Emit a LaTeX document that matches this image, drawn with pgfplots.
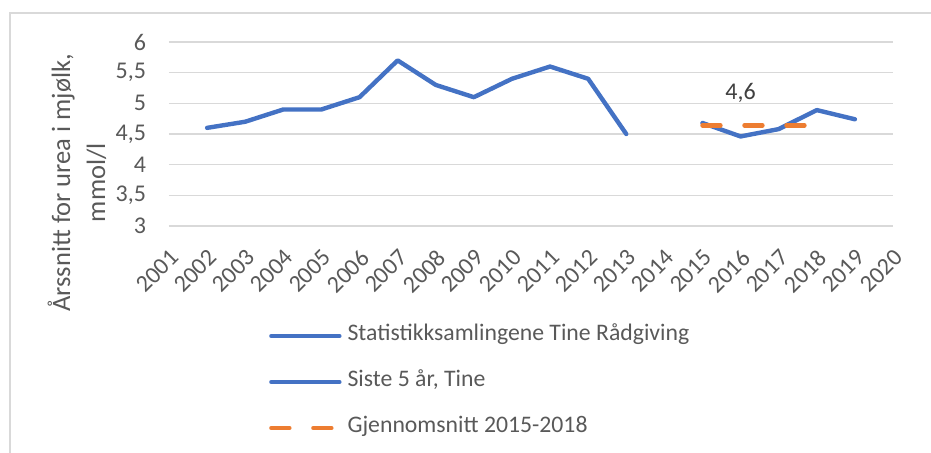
\documentclass[border=0pt]{standalone}
\usepackage{fontspec}
\setmainfont{Carlito}
\usepackage{pgfplots}
\pgfplotsset{compat=1.18}
\definecolor{exblue}{HTML}{4472C4}
\definecolor{exorange}{HTML}{ED7D31}
\definecolor{txtgray}{HTML}{595959}
\definecolor{gridgray}{HTML}{D9D9D9}
\begin{document}
\begin{tikzpicture}
\useasboundingbox (0,0) rectangle (698.25pt,339.75pt);
\draw[gridgray, line width=0.9pt] (7.5pt,-20pt) rectangle (720pt,330pt);
\begin{axis}[
  at={(126.75pt,170.25pt)}, anchor=south west,
  scale only axis, width=543pt, height=138pt,
  xmin=0, xmax=19, ymin=3, ymax=6,
  xtick={0,...,19},
  xticklabels={2001,2002,2003,2004,2005,2006,2007,2008,2009,2010,2011,2012,2013,2014,2015,2016,2017,2018,2019,2020},
  ytick={3,3.5,4,4.5,5,5.5,6},
  yticklabels={3,{3,5},4,{4,5},5,{5,5},6},
  axis line style={draw=none},
  major tick length=0pt,
  ymajorgrids, grid style={gridgray, line width=0.9pt},
  tick label style={font=\fontsize{18}{20}\selectfont, text=txtgray},
  xticklabel shift=16.5pt,
  xticklabel style={rotate=45, anchor=north east, inner sep=0pt},
  yticklabel style={anchor=east, inner sep=0pt, xshift=-17pt},
  ylabel={Årssnitt for urea i mjølk,\\mmol/l},
  ylabel style={at={(axis description cs:-0.127,0.235)}, anchor=center, rotate=0, align=center,
    font=\fontsize{19.9}{26.3}\selectfont, text=txtgray},
  clip=false,
  legend style={at={(rel axis cs:0.138,-0.535)}, anchor=north west, draw=none, fill=none,
    inner sep=0pt, row sep=17.5pt, font=\fontsize{17.8}{20}\selectfont, text=txtgray,
    nodes={inner xsep=4.5pt, inner ysep=0pt, text height=12pt, text depth=5pt}},
  legend cell align=left,
  legend image code/.code={\draw[#1] (1.5pt,0pt) -- (52.5pt,0pt);},
  every axis plot/.append style={line width=3.3pt, line cap=round, line join=round},
]
\addplot[exblue] coordinates {
  (1,4.6)(2,4.7)(3,4.9)(4,4.9)(5,5.1)(6,5.7)(7,5.3)(8,5.1)(9,5.4)(10,5.6)(11,5.4)(12,4.5)
};
\addlegendentry{Statistikksamlingene Tine Rådgiving}
\addplot[exblue] coordinates {
  (14,4.68)(15,4.46)(16,4.58)(17,4.89)(18,4.74)
};
\addlegendentry{Siste 5 år, Tine}
\addplot[exorange, dash pattern=on 13.5pt off 18pt,
  point meta=explicit symbolic,
  nodes near coords,
  nodes near coords style={anchor=center, yshift=24pt, font=\fontsize{18}{20}\selectfont, text=black!75}]
  coordinates {
  (14,4.64)[] (15,4.64)[4,6] (16,4.64)[] (17,4.64)[]
};
\addlegendentry{Gjennomsnitt 2015-2018}
\end{axis}
\end{tikzpicture}
\end{document}
